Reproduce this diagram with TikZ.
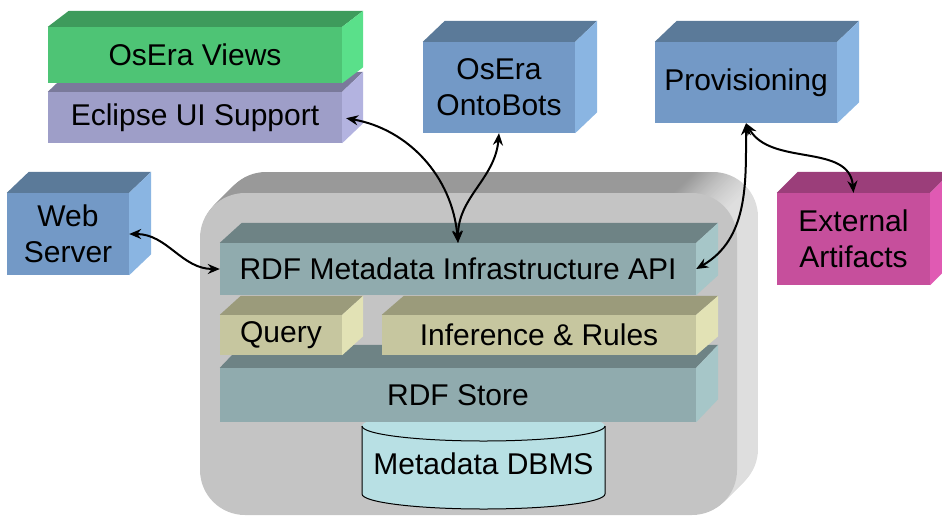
\documentclass[tikz,border=0pt]{standalone}
\usepackage{fontspec}
\setmainfont{Liberation Sans}
\usetikzlibrary{arrows.meta}

% colours of the blocks: front, top and side faces
\definecolor{greenfront}{HTML}{4EC475}\definecolor{greentop}{HTML}{3E9B5C}\definecolor{greenside}{HTML}{5AE08A}
\definecolor{purplefront}{HTML}{9E9EC8}\definecolor{purpletop}{HTML}{7A7A9B}\definecolor{purpleside}{HTML}{B3B3E0}
\definecolor{bluefront}{HTML}{7399C6}\definecolor{bluetop}{HTML}{5B7A99}\definecolor{blueside}{HTML}{8AB5E2}
\definecolor{magentafront}{HTML}{C64F9C}\definecolor{magentatop}{HTML}{9B3E7A}\definecolor{magentaside}{HTML}{E05AB3}
\definecolor{tealfront}{HTML}{90ABAE}\definecolor{tealtop}{HTML}{6E8385}\definecolor{tealside}{HTML}{A6C6C8}
\definecolor{khakifront}{HTML}{C6C69F}\definecolor{khakitop}{HTML}{9B9B7B}\definecolor{khakiside}{HTML}{E2E2B5}
\definecolor{contfront}{HTML}{C4C4C4}\definecolor{conttop}{HTML}{999999}\definecolor{contside}{HTML}{DEDEDE}
\definecolor{dbfill}{HTML}{B8E0E4}

% the path is fitted to 25bp..75bp of the shading
\pgfdeclarehorizontalshading{contshade}{100bp}{color(0bp)=(conttop); color(69bp)=(conttop); color(74bp)=(contside); color(100bp)=(contside)}

\newcommand{\boxfont}{\fontsize{30}{36}\selectfont}
% top and right faces of a block: node, depth x, depth y, colour
\newcommand{\cubefaces}[4]{%
  \fill[#4top] (#1.north west) -- ++(#2,#3) -- ([shift={(#2,#3)}]#1.north east) -- (#1.north east) -- cycle;
  \fill[#4side] (#1.north east) -- ++(#2,#3) -- ([shift={(#2,#3)}]#1.south east) -- (#1.south east) -- cycle;
}

\begin{document}
\begin{tikzpicture}[x=1pt, y=1pt,
    cube/.style={rectangle, inner sep=0pt, align=center, font=\boxfont},
    link/.style={line width=2pt, {Stealth[length=12pt,width=10pt]}-{Stealth[length=12pt,width=10pt]}}
    ]
    \useasboundingbox (0,0) rectangle (942,-517);

    % Container
    \foreach \t in {21,20,...,1}
        \shade[shading=contshade, rounded corners=45pt] (200+\t,-515+\t) rectangle (737+\t,-193+\t);
    \fill[contfront, rounded corners=45pt] (200,-515) rectangle (737,-193);

    % Metadata DBMS
    \fill[dbfill] (362,-426) -- (362,-494) arc[start angle=180, end angle=360, x radius=121.5pt, y radius=15pt]
        -- (605,-426) arc[start angle=0, end angle=180, x radius=121.5pt, y radius=15pt] -- cycle;
    \draw[line width=1pt] (362,-426) -- (362,-494) arc[start angle=180, end angle=360, x radius=121.5pt, y radius=15pt] -- (605,-426);
    \draw[line width=1pt] (362,-426) arc[start angle=180, end angle=360, x radius=121.5pt, y radius=15pt];
    \node[font=\boxfont] (dbms) at (483.5,-464) {Metadata DBMS};

    % RDF layers
    \node[cube, fill=tealfront, minimum width=476pt, minimum height=54pt] (store) at (458,-395) {RDF Store};
    \cubefaces{store}{22}{23}{teal}
    \node[cube, fill=khakifront, minimum width=122pt, minimum height=40pt] (query) at (281,-335) {Query};
    \cubefaces{query}{21}{19}{khaki}
    \node[cube, fill=khakifront, minimum width=314pt, minimum height=40pt] (infer) at (539,-335) {Inference \& Rules};
    \cubefaces{infer}{22}{19}{khaki}
    \node[cube, fill=tealfront, minimum width=476pt, minimum height=52pt] (api) at (458,-269) {RDF Metadata Infrastructure API};
    \cubefaces{api}{22}{20}{teal}

    % Outer blocks
    \node[cube, fill=purplefront, minimum width=294pt, minimum height=51pt] (eui) at (195,-117.5) {Eclipse UI Support};
    \cubefaces{eui}{21}{20}{purple}
    \node[cube, fill=greenfront, minimum width=294pt, minimum height=56pt] (views) at (195,-55) {OsEra Views};
    \cubefaces{views}{21}{16}{green}
    \node[cube, fill=bluefront, minimum width=152pt, minimum height=91pt] (bots) at (499,-87.5) {OsEra\\OntoBots};
    \cubefaces{bots}{22}{21}{blue}
    \node[cube, fill=bluefront, minimum width=182pt, minimum height=81pt] (prov) at (746,-82.5) {Provisioning};
    \cubefaces{prov}{22}{21}{blue}
    \node[cube, fill=bluefront, minimum width=122pt, minimum height=82pt] (web) at (68,-234) {Web\\Server};
    \cubefaces{web}{22}{21}{blue}
    \node[cube, fill=magentafront, minimum width=153pt, minimum height=92pt] (ext) at (853.5,-239) {External\\Artifacts};
    \cubefaces{ext}{21}{21}{magenta}

    % Links
    \draw[link, shorten <=4pt] (eui.east) to[out=-10, in=95] (api.north);
    \draw[link] (bots.south) to[out=-95, in=90] (api.north);
    \draw[link] (prov.south) to[out=-90, in=30] (api.east);
    \draw[link] (prov.south) to[out=-60, in=95] (ext.north);
    \draw[link] (web.east) to[out=0, in=180] (api.west);
\end{tikzpicture}
\end{document}
